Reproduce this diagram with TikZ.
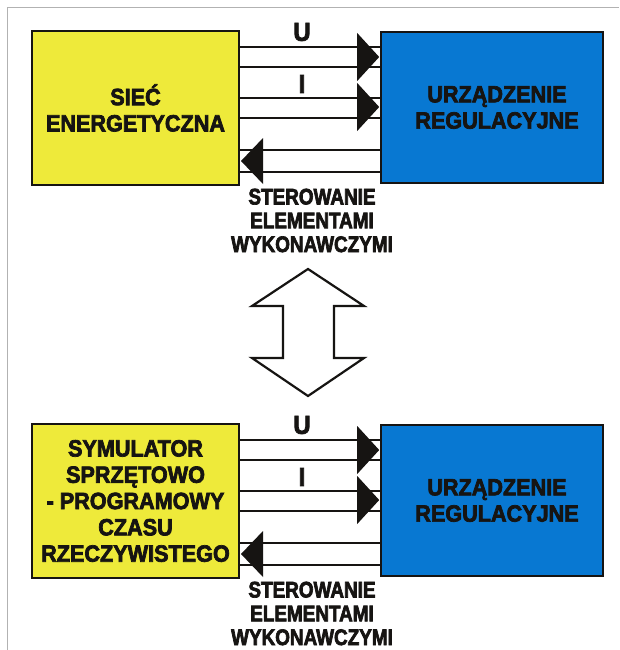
\documentclass[tikz,border=0pt]{standalone}
\usepackage{fontspec}
\usetikzlibrary{calc}
\newfontfamily\heavysans{Liberation Sans}[FakeStretch=0.92,FakeBold=3]
\newfontfamily\narrowsans{Liberation Sans}[FakeStretch=0.84,FakeBold=3]
\newcommand\boxtxt{\heavysans\bfseries\fontsize{23.5}{26.3}\selectfont}
\newcommand\captxt{\narrowsans\bfseries\fontsize{22.5}{23.8}\selectfont}
\newcommand\sigtxt{\heavysans\bfseries\fontsize{26}{26}\selectfont}

\definecolor{netyellow}{RGB}{238,234,58}
\definecolor{regblue}{RGB}{8,120,210}
\definecolor{ink}{RGB}{22,20,18}
\definecolor{framegray}{RGB}{178,178,178}

\tikzset{
  ybox/.style={draw=ink, line width=2pt, fill=netyellow, inner sep=0pt,
    minimum width=207pt, minimum height=154pt, align=center, font=\boxtxt, text=ink},
  bbox/.style={draw=ink, line width=1.6pt, fill=regblue, inner sep=0pt,
    minimum width=222pt, minimum height=151pt, align=center, font=\boxtxt, text=ink},
  wire/.style={draw=ink, line width=2.6pt},
  head/.style={fill=ink},
  siglabel/.style={font=\sigtxt, text=ink, inner sep=0pt},
  caption/.style={font=\captxt, text=ink, align=center, inner sep=0pt},
  link/.style={draw=ink, line width=2.2pt, fill=white, line join=miter}
}

% one panel: #1 name suffix, #2 top edge of the left box, #3 left box text
\newcommand\regpanel[3]{%
  \node[ybox] (src#1) at (135.5,{#2+78}) {#3};
  \node[bbox] (dst#1) at (492,{#2+77.5}) {\hspace*{10pt}URZĄDZENIE\\\hspace*{10pt}REGULACYJNE};
  % voltage pair
  \draw[wire] (src#1.east |- 0,{#2+17}) -- (dst#1.west |- 0,{#2+17});
  \draw[wire] (src#1.east |- 0,{#2+37}) -- (dst#1.west |- 0,{#2+37});
  \fill[head] ($(dst#1.west |- 0,{#2+27})+(-1,0)$) -- ++(-22,-24) -- ++(0,48) -- cycle;
  % current pair
  \draw[wire] (src#1.east |- 0,{#2+68}) -- (dst#1.west |- 0,{#2+68});
  \draw[wire] (src#1.east |- 0,{#2+88}) -- (dst#1.west |- 0,{#2+88});
  \fill[head] ($(dst#1.west |- 0,{#2+77})+(-1,0)$) -- ++(-22,-24) -- ++(0,48) -- cycle;
  % control pair
  \draw[wire] (dst#1.west |- 0,{#2+120}) -- (src#1.east |- 0,{#2+120});
  \draw[wire] (dst#1.west |- 0,{#2+142}) -- (src#1.east |- 0,{#2+142});
  \fill[head] ($(src#1.east |- 0,{#2+131})+(1,0)$) -- ++(22,-23) -- ++(0,46) -- cycle;
  \node[siglabel] (u#1) at (302,{#2+2}) {U};
  \node[siglabel] (i#1) at (302,{#2+54}) {I};
  \node[caption] (ctl#1) at (312,{#2+190.5}) {STEROWANIE\\ELEMENTAMI\\WYKONAWCZYMI};
}

\begin{document}
\begin{tikzpicture}[x=1pt,y=-1pt]
  \useasboundingbox (0,0) rectangle (619,650);
  \fill[white] (0,0) rectangle (619,650);
  \draw[framegray, line width=1pt] (7,650) -- (7,8) -- (619,8);

  \regpanel{A}{30}{SIEĆ\\ENERGETYCZNA}
  \regpanel{B}{423}{SYMULATOR\\SPRZĘTOWO\\- PROGRAMOWY\\CZASU\\RZECZYWISTEGO}

  % exchange arrow between the two set-ups
  \draw[link] (308,269) -- (364,306) -- (334,306) -- (334,358) -- (364,358)
    -- (308,396) -- (252,358) -- (283,358) -- (283,306) -- (252,306) -- cycle;
\end{tikzpicture}
\end{document}
